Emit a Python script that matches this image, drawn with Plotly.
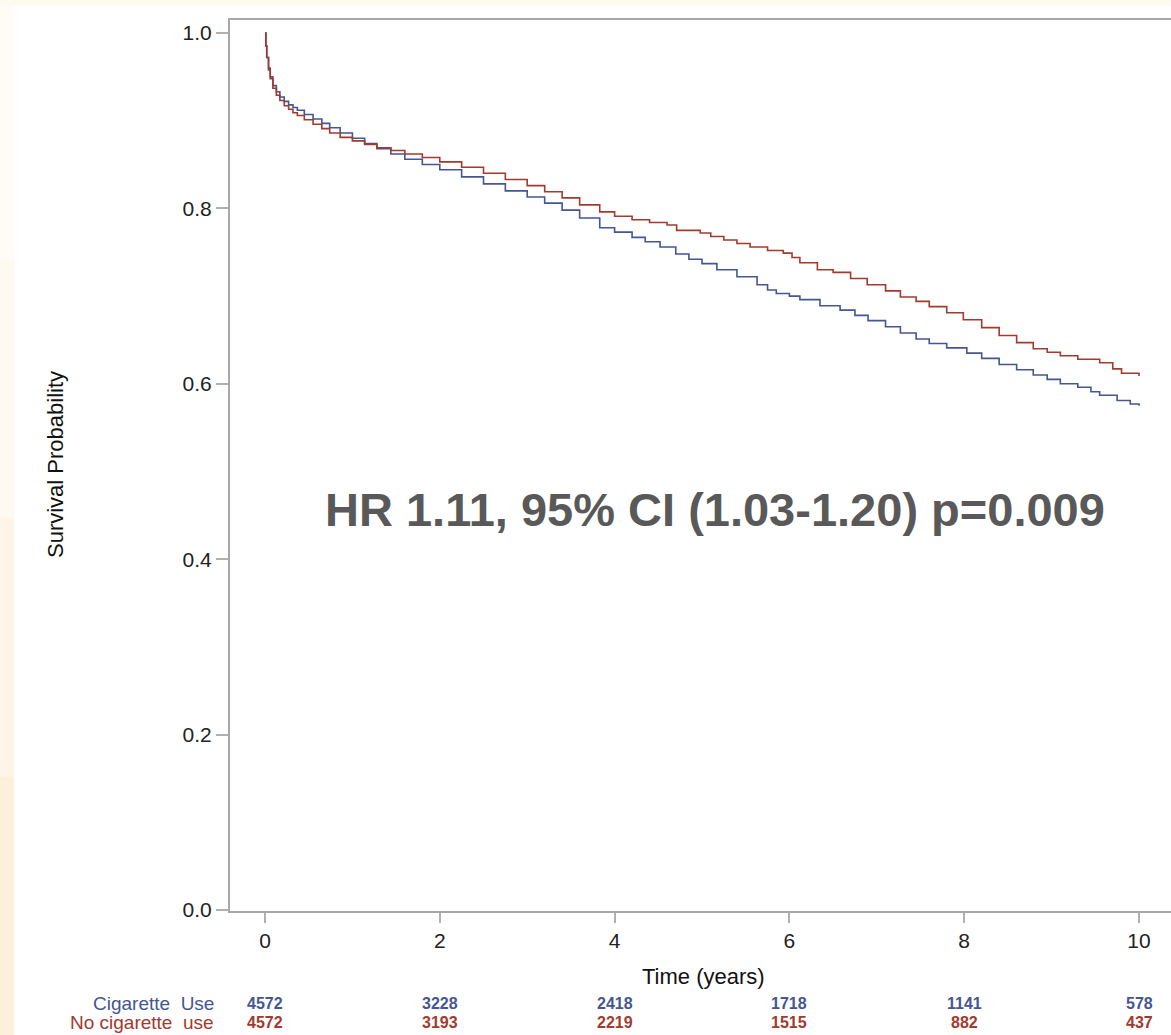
import plotly.graph_objects as go

# ---- data ----
time_cig = [0.00, 0.01, 0.02, 0.04, 0.06, 0.09, 0.13, 0.17, 0.22, 0.27, 0.32, 0.37, 0.45, 0.55,
            0.65, 0.74, 0.86, 1.00, 1.14, 1.28, 1.44, 1.60, 1.80, 2.00, 2.25, 2.50, 2.75, 3.00,
            3.20, 3.40, 3.60, 3.83, 4.00, 4.20, 4.35, 4.52, 4.70, 4.85, 5.00, 5.17, 5.40, 5.63,
            5.75, 5.85, 6.00, 6.12, 6.35, 6.58, 6.75, 6.90, 7.10, 7.27, 7.45, 7.60, 7.80, 8.03,
            8.20, 8.40, 8.60, 8.79, 8.95, 9.10, 9.30, 9.45, 9.55, 9.75, 9.90, 10.00]
surv_cig = [1.000, 0.985, 0.972, 0.960, 0.950, 0.940, 0.933, 0.927, 0.922, 0.918, 0.915, 0.912, 0.907, 0.902,
            0.897, 0.892, 0.886, 0.880, 0.874, 0.868, 0.862, 0.856, 0.850, 0.844, 0.836, 0.828, 0.820, 0.813,
            0.806, 0.798, 0.789, 0.778, 0.773, 0.767, 0.762, 0.756, 0.748, 0.742, 0.737, 0.730, 0.722, 0.713,
            0.707, 0.703, 0.700, 0.696, 0.689, 0.684, 0.678, 0.672, 0.665, 0.658, 0.651, 0.646, 0.641, 0.635,
            0.629, 0.622, 0.616, 0.610, 0.605, 0.600, 0.596, 0.591, 0.587, 0.581, 0.577, 0.575]

time_nocig = [0.00, 0.01, 0.02, 0.04, 0.06, 0.09, 0.13, 0.17, 0.22, 0.27, 0.32, 0.37, 0.45, 0.55,
              0.65, 0.74, 0.86, 1.00, 1.14, 1.28, 1.44, 1.60, 1.80, 2.00, 2.25, 2.50, 2.75, 3.00,
              3.20, 3.40, 3.60, 3.83, 4.00, 4.20, 4.40, 4.60, 4.71, 4.98, 5.10, 5.25, 5.40, 5.55,
              5.75, 5.93, 6.03, 6.12, 6.32, 6.50, 6.70, 6.89, 7.10, 7.27, 7.45, 7.60, 7.80, 7.99,
              8.20, 8.40, 8.60, 8.79, 8.95, 9.10, 9.30, 9.55, 9.70, 9.80, 10.00]
surv_nocig = [1.000, 0.985, 0.972, 0.958, 0.948, 0.937, 0.929, 0.923, 0.917, 0.913, 0.909, 0.906, 0.901, 0.896,
              0.891, 0.886, 0.881, 0.877, 0.873, 0.869, 0.866, 0.862, 0.858, 0.853, 0.847, 0.840, 0.833, 0.826,
              0.819, 0.812, 0.804, 0.796, 0.791, 0.787, 0.784, 0.781, 0.775, 0.772, 0.768, 0.764, 0.760, 0.756,
              0.752, 0.749, 0.744, 0.738, 0.730, 0.727, 0.720, 0.713, 0.706, 0.699, 0.694, 0.688, 0.681, 0.673,
              0.664, 0.655, 0.647, 0.640, 0.636, 0.632, 0.628, 0.624, 0.617, 0.612, 0.609]

risk_times = [0, 2, 4, 6, 8, 10]
risk_cig = [4572, 3228, 2418, 1718, 1141, 578]
risk_nocig = [4572, 3193, 2219, 1515, 882, 437]
group_labels = ["Cigarette  Use", "No cigarette  use"]

x_ticks = [0, 2, 4, 6, 8, 10]
y_ticks = [0.0, 0.2, 0.4, 0.6, 0.8, 1.0]
y_tick_text = ["0.0", "0.2", "0.4", "0.6", "0.8", "1.0"]

hr_text = "HR 1.11, 95% CI (1.03-1.20) p=0.009"

# ---- styling ----
BLUE = "#445694"
RED = "#A23A2E"
FONT = "Liberation Sans, Arial, sans-serif"
W, H = 1171, 1035
ML, MR, MT, MB = 230, 0, 20, 124
PW, PH = W - ML - MR, H - MT - MB


def px_x(px):
    return (px - ML) / PW


def px_y(py):
    return (H - MB - py) / PH


fig = go.Figure()
fig.add_trace(go.Scatter(x=time_cig, y=surv_cig, mode="lines", line_shape="hv",
                         line=dict(color=BLUE, width=1.6), name=group_labels[0],
                         showlegend=False))
fig.add_trace(go.Scatter(x=time_nocig, y=surv_nocig, mode="lines", line_shape="hv",
                         line=dict(color=RED, width=1.6), name=group_labels[1],
                         showlegend=False))

annotations = []
# HR text
annotations.append(dict(x=px_x(715), y=px_y(510), xref="paper", yref="paper",
                        text=f"<b>{hr_text}</b>", showarrow=False,
                        font=dict(family=FONT, size=47, color="#595959"),
                        xanchor="center", yanchor="middle"))
# Axis titles
annotations.append(dict(x=px_x(56), y=px_y(465), xref="paper", yref="paper",
                        text="Survival Probability", textangle=-90, showarrow=False,
                        font=dict(family=FONT, size=22, color="#111111"),
                        xanchor="center", yanchor="middle"))
annotations.append(dict(x=px_x(703), y=px_y(976), xref="paper", yref="paper",
                        text="Time (years)", showarrow=False,
                        font=dict(family=FONT, size=22, color="#111111"),
                        xanchor="center", yanchor="middle"))
# Number at risk
for row, (label, vals, col) in enumerate([(group_labels[0], risk_cig, BLUE),
                                           (group_labels[1], risk_nocig, RED)]):
    ypos = px_y(1003 + 19 * row)
    annotations.append(dict(x=px_x(216), y=ypos, xref="paper", yref="paper",
                            text=label.replace("  ", "&nbsp; "), showarrow=False,
                            font=dict(family=FONT, size=19, color=col),
                            xanchor="right", yanchor="middle"))
    for t, v in zip(risk_times, vals):
        annotations.append(dict(x=t, y=ypos, xref="x", yref="paper",
                                text=f"<b>{v}</b>", showarrow=False,
                                font=dict(family=FONT, size=16, color=col),
                                xanchor="center", yanchor="middle"))

# slide-like background tint along the left and top edges
shapes = []
left_cols = ["#fffcf8", "#fef9f1", "#fdf5e8", "#fcefdb"]
seg = H / len(left_cols)
for i, c in enumerate(left_cols):
    shapes.append(dict(type="rect", xref="paper", yref="paper",
                       x0=px_x(0), x1=px_x(14), y0=px_y(seg * (i + 1)), y1=px_y(seg * i),
                       fillcolor=c, line=dict(width=0), layer="below"))
shapes.append(dict(type="rect", xref="paper", yref="paper",
                   x0=px_x(0), x1=px_x(W), y0=px_y(6), y1=px_y(0),
                   fillcolor="#fffaf0", line=dict(width=0), layer="below"))

fig.update_layout(
    width=W, height=H,
    margin=dict(l=ML, r=MR, t=MT, b=MB, pad=0),
    paper_bgcolor="white", plot_bgcolor="white",
    font=dict(family=FONT, color="#222222"),
    annotations=annotations, shapes=shapes,
    xaxis=dict(range=[(ML - 265) / 87.4, (W - 265) / 87.4],
               tickvals=x_ticks, ticktext=[str(v) for v in x_ticks],
               ticks="outside", ticklen=10, tickwidth=2, tickcolor="#b0b0b0",
               showline=True, linecolor="#a8a8a8", linewidth=2, mirror=True,
               showgrid=False, zeroline=False,
               tickfont=dict(family=FONT, size=21, color="#222222")),
    yaxis=dict(range=[(910 - 911) / 877, (910 - 20) / 877],
               tickvals=y_ticks, ticktext=y_tick_text,
               ticks="outside", ticklen=12, tickwidth=2, tickcolor="#b0b0b0",
               showline=True, linecolor="#a8a8a8", linewidth=2,
               showgrid=False, zeroline=False,
               tickfont=dict(family=FONT, size=21, color="#222222")),
)

fig.write_html("out.html",
               config={"displayModeBar": False},
               post_script="document.body.style.margin='0';"
                           "document.body.style.overflow='hidden';")
